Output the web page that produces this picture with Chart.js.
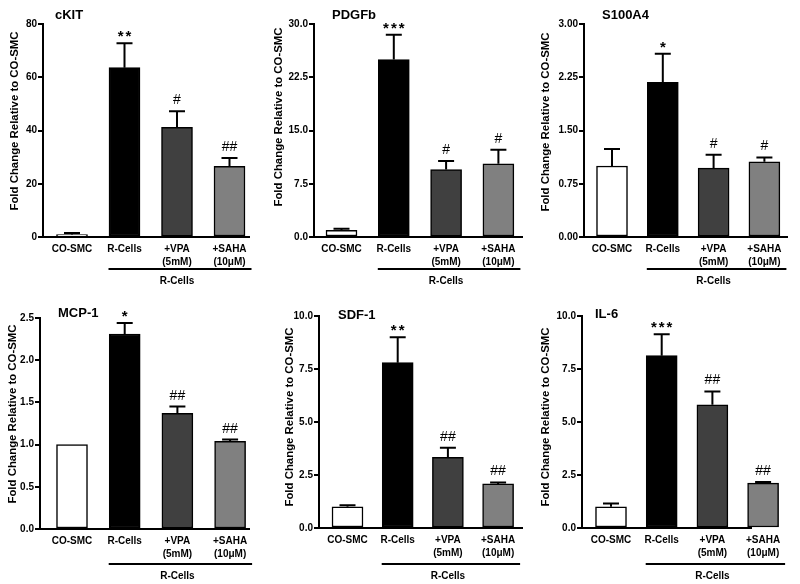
<!DOCTYPE html>
<html>
<head>
<meta charset="utf-8">
<script src="https://cdn.jsdelivr.net/npm/chart.js@4/dist/chart.umd.min.js"></script>
<style>
  body { margin: 0; background: #fff; }
  #figure { position: relative; width: 800px; height: 584px; overflow: hidden; }
  #figure canvas { position: absolute; }
</style>
</head>
<body>
<div id="figure"></div>
<script>
'use strict';

// categories shared by every panel
var categories = [['CO-SMC'], ['R-Cells'], ['+VPA', '(5mM)'], ['+SAHA', '(10\u03bcM)']];
var groupLabel = 'R-Cells';
var yTitle = 'Fold Change Relative to CO-SMC';
var barColors = ['#ffffff', '#000000', '#404040', '#808080'];

// values (mean, upper error)
var ckitValues = [0.9, 63.6, 41.2, 26.5];
var ckitErrors = [0.6, 9.2, 6.0, 3.2];
var ckitMarks = ['', '**', '#', '##'];
var ckitTicks = [0, 20, 40, 60, 80];

var pdgfbValues = [0.95, 25.0, 9.5, 10.3];
var pdgfbErrors = [0.2, 3.5, 1.2, 2.0];
var pdgfbMarks = ['', '***', '#', '#'];
var pdgfbTicks = [0, 7.5, 15, 22.5, 30];

var s100a4Values = [1.00, 2.18, 0.97, 1.06];
var s100a4Errors = [0.24, 0.40, 0.19, 0.06];
var s100a4Marks = ['', '*', '#', '#'];
var s100a4Ticks = [0, 0.75, 1.5, 2.25, 3];

var mcp1Values = [1.00, 2.31, 1.37, 1.04];
var mcp1Errors = [0, 0.13, 0.08, 0.02];
var mcp1Marks = ['', '*', '##', '##'];
var mcp1Ticks = [0, 0.5, 1, 1.5, 2, 2.5];

var sdf1Values = [1.00, 7.80, 3.33, 2.08];
var sdf1Errors = [0.07, 1.20, 0.45, 0.07];
var sdf1Marks = ['', '**', '##', '##'];
var sdf1Ticks = [0, 2.5, 5, 7.5, 10];

var il6Values = [1.00, 8.13, 5.81, 2.12];
var il6Errors = [0.15, 1.01, 0.63, 0.05];
var il6Marks = ['', '***', '##', '##'];
var il6Ticks = [0, 2.5, 5, 7.5, 10];

var FONT = 'Arial, "Liberation Sans", sans-serif';

// panel layout (page pixels)
var panels = [
  { name: 'cKIT', values: ckitValues, errors: ckitErrors, marks: ckitMarks, ticks: ckitTicks, dec: 0,
    L: 0, T: 0, W: 265, H: 290, axisX: 43, top: 24, zero: 237, c0: 72, step: 52.5, axisEnd: 250,
    titleX: 55, titleY: 15, yTitleX: 15, yTitleY: 121, underY: 269 },
  { name: 'PDGFb', values: pdgfbValues, errors: pdgfbErrors, marks: pdgfbMarks, ticks: pdgfbTicks, dec: 1,
    L: 265, T: 0, W: 265, H: 290, axisX: 314, top: 24, zero: 237, c0: 341.5, step: 52.3, axisEnd: 523,
    titleX: 332, titleY: 15, yTitleX: 279, yTitleY: 117, underY: 269 },
  { name: 'S100A4', values: s100a4Values, errors: s100a4Errors, marks: s100a4Marks, ticks: s100a4Ticks, dec: 2,
    L: 530, T: 0, W: 270, H: 290, axisX: 584, top: 24, zero: 237, c0: 612, step: 50.8, axisEnd: 788,
    titleX: 602, titleY: 15, yTitleX: 546, yTitleY: 122, underY: 269 },
  { name: 'MCP-1', values: mcp1Values, errors: mcp1Errors, marks: mcp1Marks, ticks: mcp1Ticks, dec: 1,
    L: 0, T: 290, W: 265, H: 294, axisX: 40, top: 318, zero: 529, c0: 72, step: 52.7, axisEnd: 250,
    titleX: 58, titleY: 313, yTitleX: 13, yTitleY: 414, underY: 564 },
  { name: 'SDF-1', values: sdf1Values, errors: sdf1Errors, marks: sdf1Marks, ticks: sdf1Ticks, dec: 1,
    L: 265, T: 290, W: 265, H: 294, axisX: 319, top: 316, zero: 528, c0: 347.5, step: 50.2, axisEnd: 523,
    titleX: 338, titleY: 315, yTitleX: 290, yTitleY: 417, underY: 564 },
  { name: 'IL-6', values: il6Values, errors: il6Errors, marks: il6Marks, ticks: il6Ticks, dec: 1,
    L: 530, T: 290, W: 270, H: 294, axisX: 582, top: 316, zero: 528, c0: 611, step: 50.7, axisEnd: 752,
    titleX: 595, titleY: 314, yTitleX: 546, yTitleY: 417, underY: 564 }
];

// error bars, significance marks, axis line, titles and group bracket
var decor = {
  id: 'decor',
  afterDatasetsDraw: function(chart) {
    var p = chart.options.plugins.decor.panel;
    var ctx = chart.ctx;
    var x = chart.scales.x, y = chart.scales.y;
    var area = chart.chartArea;

    ctx.save();
    ctx.strokeStyle = '#000';
    ctx.fillStyle = '#000';
    ctx.lineWidth = 2;

    // x axis line
    ctx.beginPath();
    ctx.moveTo(area.left - 1, y.getPixelForValue(0));
    ctx.lineTo(p.axisEnd - p.L, y.getPixelForValue(0));
    ctx.stroke();

    p.values.forEach(function(v, i) {
      var xp = x.getPixelForValue(i);
      var top = y.getPixelForValue(v + p.errors[i]);
      if (p.errors[i] > 0) {
        ctx.beginPath();
        ctx.moveTo(xp, y.getPixelForValue(v));
        ctx.lineTo(xp, top);
        ctx.moveTo(xp - 8, top);
        ctx.lineTo(xp + 8, top);
        ctx.stroke();
      }
      var mark = p.marks[i];
      if (mark) {
        ctx.textAlign = 'center';
        ctx.textBaseline = 'alphabetic';
        if (mark.indexOf('*') >= 0) {
          ctx.font = 'bold 15px ' + FONT;
          ctx.letterSpacing = '2px';
          ctx.fillText(mark, xp + 1, top - 2);
        } else {
          ctx.font = '14px ' + FONT;
          ctx.letterSpacing = '0px';
          ctx.fillText(mark, xp, top - 7);
        }
      }
    });
    ctx.letterSpacing = '0px';

    // panel title
    ctx.font = 'bold 13px ' + FONT;
    ctx.textAlign = 'left';
    ctx.textBaseline = 'middle';
    ctx.fillText(p.name, p.titleX - p.L, p.titleY - p.T);

    // y axis title
    ctx.save();
    ctx.translate(p.yTitleX - p.L, p.yTitleY - p.T);
    ctx.rotate(-Math.PI / 2);
    ctx.font = 'bold 11.4px ' + FONT;
    ctx.textAlign = 'center';
    ctx.textBaseline = 'middle';
    ctx.fillText(yTitle, 0, 0);
    ctx.restore();

    // R-Cells bracket
    var uy = p.underY - p.T;
    ctx.beginPath();
    ctx.moveTo(x.getPixelForValue(1) - 16, uy);
    ctx.lineTo(x.getPixelForValue(3) + 22, uy);
    ctx.stroke();
    ctx.font = 'bold 10px ' + FONT;
    ctx.textAlign = 'center';
    ctx.textBaseline = 'middle';
    ctx.fillText(groupLabel, x.getPixelForValue(2), uy + 12);

    ctx.restore();
  }
};

function makePanel(p) {
  var canvas = document.createElement('canvas');
  canvas.width = p.W;
  canvas.height = p.H;
  canvas.style.left = p.L + 'px';
  canvas.style.top = p.T + 'px';
  canvas.style.width = p.W + 'px';
  canvas.style.height = p.H + 'px';
  document.getElementById('figure').appendChild(canvas);

  var xMin = -(p.c0 - p.axisX) / p.step;
  var right = Math.min(p.c0 + 3.5 * p.step, p.L + p.W - 1);
  var xMax = xMin + (right - p.axisX) / p.step;

  return new Chart(canvas, {
    type: 'bar',
    data: {
      datasets: [{
        data: p.values.map(function(v, i) { return { x: i, y: v }; }),
        backgroundColor: barColors,
        borderColor: '#000',
        borderWidth: 1.5,
        borderSkipped: false,
        barThickness: 31,
        clip: false
      }]
    },
    options: {
      responsive: false,
      animation: false,
      events: [],
      layout: { padding: { top: p.top - p.T, right: p.L + p.W - right, left: 0, bottom: 0 } },
      plugins: {
        legend: { display: false },
        tooltip: { enabled: false },
        decor: { panel: p }
      },
      scales: {
        x: {
          type: 'linear',
          min: xMin,
          max: xMax,
          offset: false,
          grid: { display: false, drawTicks: false },
          border: { display: false },
          ticks: {
            stepSize: 1,
            includeBounds: false,
            autoSkip: false,
            maxRotation: 0,
            padding: 6,
            color: '#000',
            font: { family: FONT, size: 10, weight: 'bold', lineHeight: 1.3 },
            callback: function(v) { return categories[v] || ''; }
          },
          afterFit: function(s) { s.height = p.T + p.H - p.zero; }
        },
        y: {
          min: 0,
          max: p.ticks[p.ticks.length - 1],
          afterBuildTicks: function(s) {
            s.ticks = p.ticks.map(function(v) { return { value: v }; });
          },
          grid: { display: true, drawOnChartArea: false, drawTicks: true, tickLength: 5, color: '#000', lineWidth: 2 },
          border: { display: true, color: '#000', width: 2 },
          ticks: {
            padding: 1,
            color: '#000',
            font: { family: FONT, size: 10, weight: 'bold' },
            callback: function(v) { return v.toFixed(p.dec); }
          },
          afterFit: function(s) { s.width = p.axisX - p.L; }
        }
      }
    },
    plugins: [decor]
  });
}

panels.forEach(makePanel);
</script>
</body>
</html>
